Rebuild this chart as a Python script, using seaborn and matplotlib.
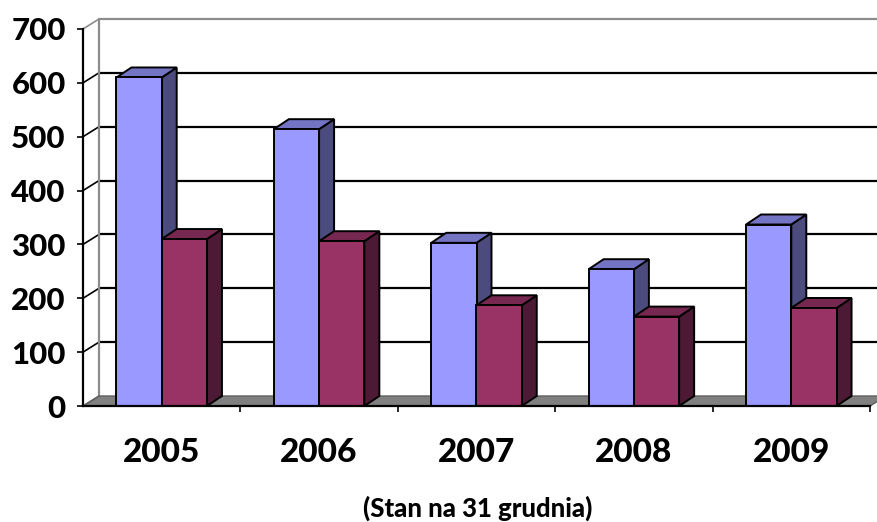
import matplotlib
matplotlib.use("Agg")
import matplotlib.pyplot as plt
from matplotlib.patches import Polygon
import seaborn as sns
import pandas as pd

years = ["2005", "2006", "2007", "2008", "2009"]
series_names = ["A", "B"]
values_a = [610, 514, 303, 254, 337]
values_b = [310, 306, 187, 166, 182]
y_ticks = [0, 100, 200, 300, 400, 500, 600, 700]
subtitle = "(Stan na 31 grudnia)"

front_colors = ["#9999FF", "#993366"]
top_colors = ["#7474C4", "#772850"]
side_colors = ["#4B4B7E", "#4C1A35"]

df = pd.DataFrame({
    "year": years * 2,
    "series": [series_names[0]] * len(years) + [series_names[1]] * len(years),
    "value": values_a + values_b,
})

sns.set_theme(style="white")
plt.rcParams["font.family"] = ["Lato", "DejaVu Sans"]

W, H = 877, 522
fig = plt.figure(figsize=(W / 100, H / 100), dpi=100)
ax_l, ax_r, ax_b, ax_t = 83, 870, 406, 29
ax = fig.add_axes([ax_l / W, 1 - ax_b / H, (ax_r - ax_l) / W, (ax_b - ax_t) / H])

sns.barplot(data=df, x="year", y="value", hue="series", palette=front_colors,
            width=0.575, gap=0, edgecolor="black", linewidth=1.4, saturation=1,
            legend=False, ax=ax)
ax.set_xlim(-0.5, len(years) - 0.5)
ax.set_ylim(0, 700)

# pixel -> data conversions for depth offsets
px_x = (ax_r - ax_l) / len(years)
px_y = (ax_b - ax_t) / 700.0
WDX, WDY = 16 / px_x, 10 / px_y     # wall depth
BDX, BDY = 15 / px_x, 10 / px_y     # bar depth

x0, x1 = -0.5, len(years) - 0.5
grey = "#8C8C8C"

# floor
ax.add_patch(Polygon([(x0, 0), (x1, 0), (x1 + WDX, WDY), (x0 + WDX, WDY)],
                     closed=True, facecolor="#808080", edgecolor="#606060",
                     linewidth=1, clip_on=False, zorder=1))
# back wall gridlines and side-wall diagonals
for v in y_ticks[1:]:
    col = grey if v == y_ticks[-1] else "black"
    ax.plot([x0 + WDX, x1 + WDX], [v + WDY, v + WDY], color=col, lw=1.6,
            clip_on=False, zorder=0.5, solid_capstyle="butt")
    ax.plot([x0, x0 + WDX], [v, v + WDY], color=col, lw=1.2,
            clip_on=False, zorder=0.5)
ax.plot([x0 + WDX, x0 + WDX], [WDY, y_ticks[-1] + WDY], color=grey, lw=1.6,
        clip_on=False, zorder=0.6)
ax.plot([x0, x0 + WDX], [0, WDY], color="#606060", lw=1.0, clip_on=False, zorder=1.2)

# 3D faces for bars
n = len(years)
for idx, p in enumerate(ax.patches[:2 * n]):
    s = idx // n
    c = idx % n
    x, w, h = p.get_x(), p.get_width(), p.get_height()
    base = 3 + c * 10 + s * 4
    side = Polygon([(x + w, 0), (x + w, h), (x + w + BDX, h + BDY), (x + w + BDX, BDY)],
                   closed=True, facecolor=side_colors[s], edgecolor="black",
                   linewidth=1.4, clip_on=False, zorder=base)
    top = Polygon([(x, h), (x + w, h), (x + w + BDX, h + BDY), (x + BDX, h + BDY)],
                  closed=True, facecolor=top_colors[s], edgecolor="black",
                  linewidth=1.4, clip_on=False, zorder=base + 1)
    ax.add_patch(side)
    ax.add_patch(top)
    p.set_zorder(base + 2)
    p.set_clip_on(False)

for sp in ["top", "right"]:
    ax.spines[sp].set_visible(False)
for sp in ["left", "bottom"]:
    ax.spines[sp].set_color("black")
    ax.spines[sp].set_linewidth(1.6)
    ax.spines[sp].set_zorder(100)

ax.set_yticks(y_ticks)
ax.set_yticklabels([str(v) for v in y_ticks])
ax.set_xticks(range(n))
ax.set_xticklabels(years)
ax.set_xticks([i + 0.5 for i in range(n)], minor=True)
ax.tick_params(axis="y", which="major", left=True, length=4.5, width=1.2,
               color="black", pad=8, labelsize=22.5, labelcolor="black")
ax.tick_params(axis="x", which="major", bottom=False, pad=17, labelsize=24,
               labelcolor="black")
ax.tick_params(axis="x", which="minor", bottom=True, length=4.5, width=1.2,
               color="black")
for lab in ax.get_yticklabels() + ax.get_xticklabels():
    lab.set_fontweight("black")
ax.set_xlabel("")
ax.set_ylabel("")
ax.grid(False)
ax.set_facecolor("none")

fig.text(478 / W, 1 - 508 / H, subtitle, ha="center", va="center",
         fontsize=18.5, fontweight="black", color="black")

fig.savefig("out.png", dpi=100, facecolor="white")
